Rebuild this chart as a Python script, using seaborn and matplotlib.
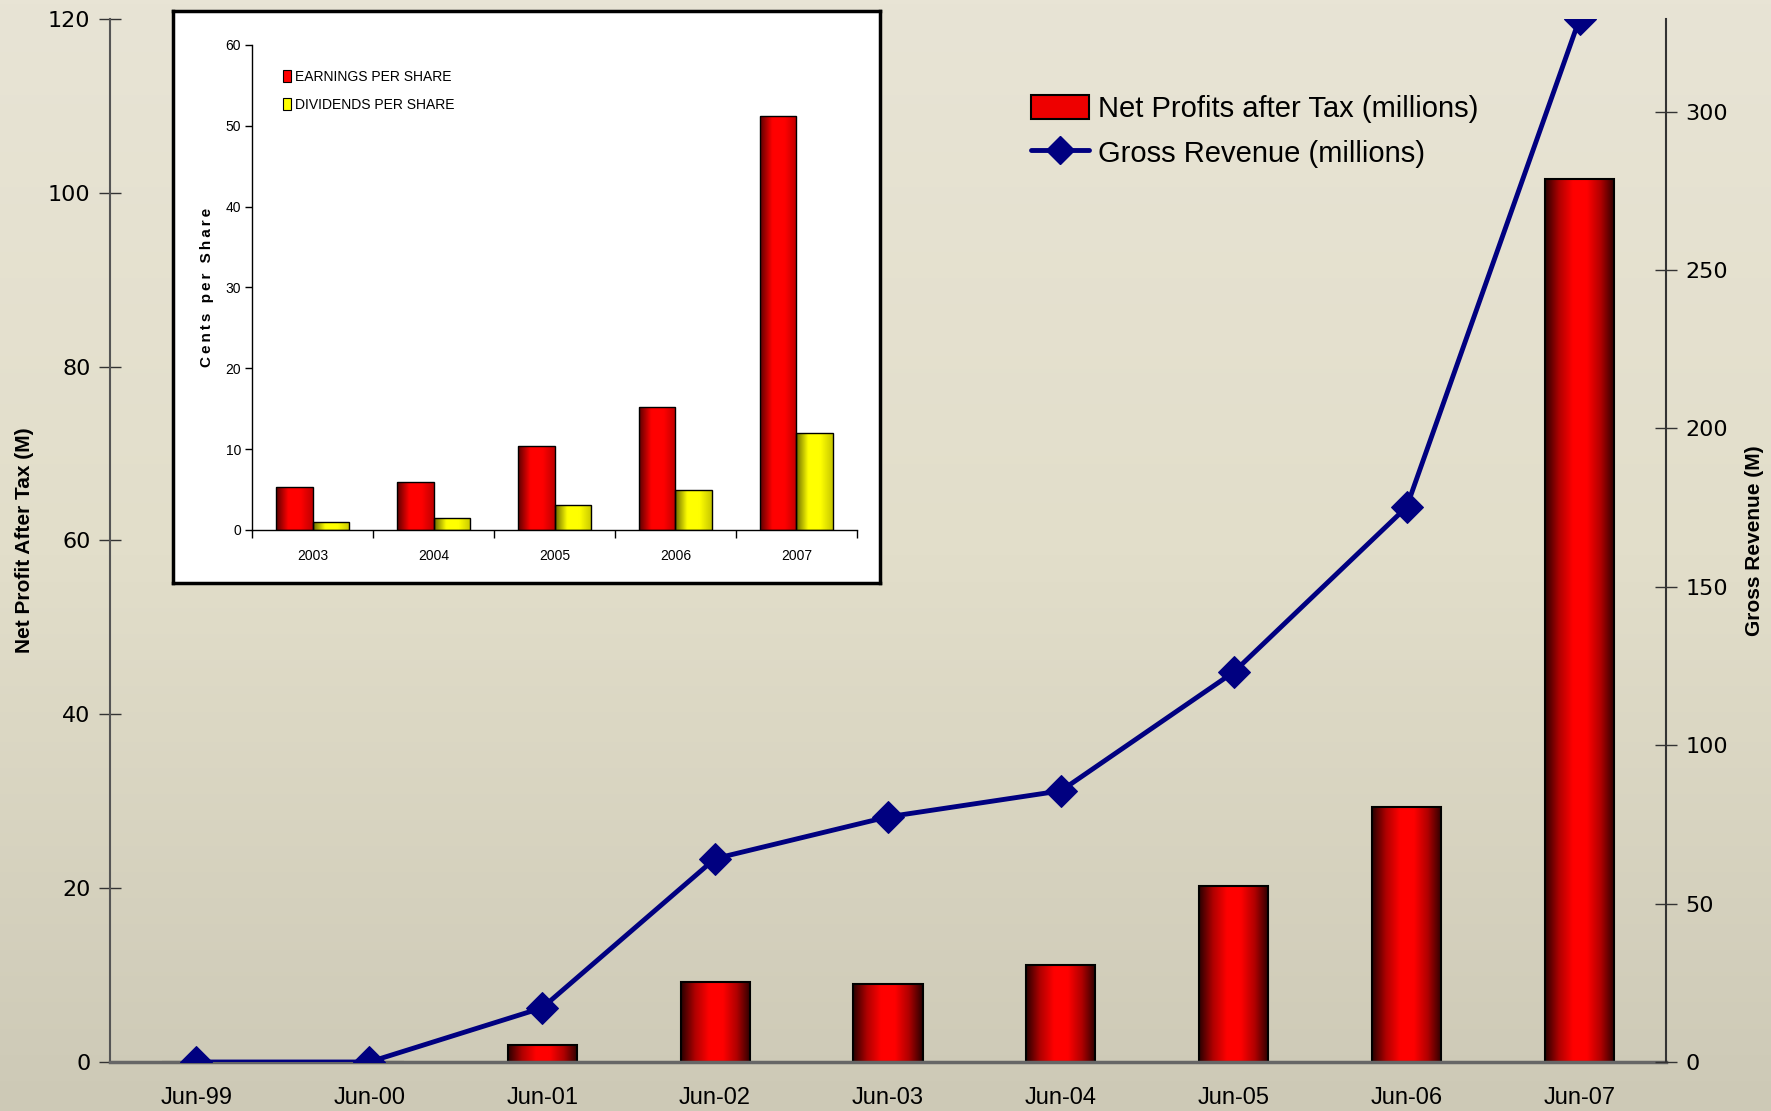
import numpy as np
import pandas as pd
import matplotlib
matplotlib.use("Agg")
import matplotlib.pyplot as plt
import seaborn as sns
from matplotlib.colors import LinearSegmentedColormap
from matplotlib.patches import Rectangle
from matplotlib.lines import Line2D

# data
periods = ["Jun-99", "Jun-00", "Jun-01", "Jun-02", "Jun-03", "Jun-04", "Jun-05", "Jun-06", "Jun-07"]
net_profit = [0, 0, 2.0, 9.2, 9.0, 11.2, 20.2, 29.3, 101.6]
gross_revenue = [0, 0, 17.1, 64.2, 77.4, 85.6, 123.1, 175.2, 329.3]

years = ["2003", "2004", "2005", "2006", "2007"]
eps = [5.3, 5.95, 10.35, 15.2, 51.2]
dps = [0.98, 1.45, 3.07, 4.98, 11.95]

sns.set_theme(style="white")
plt.rcParams["font.family"] = ["Liberation Sans", "DejaVu Sans"]
plt.rcParams["text.color"] = "black"
plt.rcParams["axes.labelcolor"] = "black"
plt.rcParams["xtick.color"] = "black"
plt.rcParams["ytick.color"] = "black"

fig = plt.figure(figsize=(17.71, 11.11), dpi=100)

# background gradient
bg = fig.add_axes([0, 0, 1, 1], zorder=-10)
grad = np.linspace(0, 1, 256).reshape(-1, 1)
bg_cmap = LinearSegmentedColormap.from_list("bg", ["#e8e4d5", "#e2deca", "#cdc9b6"])
bg.imshow(grad, aspect="auto", cmap=bg_cmap, extent=[0, 1, 0, 1], origin="upper")
bg.set_axis_off()


def shade_bars(ax, cmap_for):
    g = np.linspace(0, 1, 200).reshape(1, -1)
    for p in list(ax.patches):
        w, h = p.get_width(), p.get_height()
        if h <= 0 or w <= 0:
            continue
        x0, y0 = p.get_x(), p.get_y()
        im = ax.imshow(g, cmap=cmap_for(p), aspect="auto", extent=[x0, x0 + w, y0, y0 + h],
                       zorder=p.get_zorder() + 0.1, interpolation="bicubic")
        im.set_clip_path(p)
        p.set_facecolor("none")
        p.set_zorder(p.get_zorder() + 0.2)


# main chart
ax = fig.add_axes([0.0621, 0.0441, 0.8786, 0.9389])
ax.set_facecolor("none")
df = pd.DataFrame({"period": periods, "profit": net_profit, "revenue": gross_revenue})
sns.barplot(data=df, x="period", y="profit", color="red", width=0.4,
            edgecolor="black", linewidth=1.5, ax=ax)
cmap_main = LinearSegmentedColormap.from_list(
    "b", ["#2a0000", "#b00000", "#ff0000", "#ff0000", "#b00000", "#2a0000"])
shade_bars(ax, lambda p: cmap_main)
ax.set_xlim(-0.5, 8.5)
ax.set_ylim(0, 120)
ax.set_yticks(range(0, 121, 20))
ax.set_xlabel("")
ax.set_ylabel("Net Profit After Tax (M)", fontsize=15, fontweight="bold", labelpad=10)
ax.set_xticks(np.arange(-0.5, 9, 1), minor=True)
ax.tick_params(axis="x", which="major", length=0, labelsize=17, pad=18)
ax.tick_params(axis="x", which="minor", direction="inout", length=16, width=1, color="#333333")
ax.tick_params(axis="y", which="major", direction="inout", length=16, width=1, color="#333333",
               labelsize=17, pad=6)
for lab in ax.get_yticklabels():
    lab.set_family("DejaVu Sans")
    lab.set_fontsize(16)
for s in ["top", "right"]:
    ax.spines[s].set_visible(False)
ax.spines["left"].set_color("#555555")
ax.spines["left"].set_linewidth(1.5)
ax.spines["bottom"].set_color("#666666")
ax.spines["bottom"].set_linewidth(2.5)

ax2 = ax.twinx()
sns.lineplot(data=df, x="period", y="revenue", color="#000080", linewidth=3.5,
             marker="D", markersize=16, markeredgecolor="#000080", ax=ax2, zorder=5)
ax2.set_ylim(0, 329.3)
ax2.set_yticks(range(0, 301, 50))
ax2.set_xlim(-0.5, 8.5)
ax2.set_ylabel("Gross Revenue (M)", fontsize=15, fontweight="bold", labelpad=12)
ax2.tick_params(axis="y", which="major", direction="inout", length=16, width=1, color="#333333",
                labelsize=16, pad=6, right=True)
for lab in ax2.get_yticklabels():
    lab.set_family("DejaVu Sans")
for s in ["top", "left", "bottom"]:
    ax2.spines[s].set_visible(False)
ax2.spines["right"].set_color("#333333")
ax2.spines["right"].set_linewidth(1.5)

handles = [Rectangle((0, 0), 1, 1, facecolor="#ee0000", edgecolor="black", linewidth=1.5),
           Line2D([], [], color="#000080", linewidth=3.5, marker="D", markersize=14)]
ax2.legend(handles, ["Net Profits after Tax (millions)", "Gross Revenue (millions)"],
           loc="upper left", bbox_to_anchor=(0.575, 0.952), frameon=False, fontsize=21,
           handlelength=2.0, handleheight=0.9, labelspacing=0.55, handletextpad=0.3)

# inset chart
box = fig.add_axes([0.0977, 0.4752, 0.3992, 0.5149], zorder=10)
box.set_facecolor("white")
box.set_xticks([])
box.set_yticks([])
for s in box.spines.values():
    s.set_color("black")
    s.set_linewidth(2.5)

iax = fig.add_axes([0.1423, 0.523, 0.3416, 0.4365], zorder=11)
iax.set_facecolor("none")
idf = pd.DataFrame({
    "year": years * 2,
    "value": eps + dps,
    "series": ["EARNINGS PER SHARE"] * 5 + ["DIVIDENDS PER SHARE"] * 5,
})
sns.barplot(data=idf, x="year", y="value", hue="series", width=0.6,
            palette=["#ff0000", "#ffff00"], edgecolor="black", linewidth=1, ax=iax)
leg = iax.get_legend()
if leg is not None:
    leg.remove()

cmap_r = LinearSegmentedColormap.from_list("r", ["#5a0000", "#ff0000", "#ff0000", "#c00000"])
cmap_y = LinearSegmentedColormap.from_list("y", ["#6a6a00", "#ffff00", "#ffff00", "#c8c800"])
shade_bars(iax, lambda p: cmap_y if p.get_facecolor()[1] > 0.5 else cmap_r)

iax.set_xlim(-0.5, 4.5)
iax.set_ylim(0, 60)
iax.set_yticks(range(0, 61, 10))
iax.set_xlabel("")
iax.set_ylabel("\u2009".join("Cents per Share"), fontsize=11, fontweight="bold", labelpad=8)
iax.set_xticks(np.arange(-0.5, 5, 1), minor=True)
iax.tick_params(axis="x", which="major", length=0, labelsize=10, pad=14)
iax.tick_params(axis="x", which="minor", direction="out", length=6, width=1, color="black", bottom=True)
iax.tick_params(axis="y", which="major", direction="out", length=5, width=1, color="black",
                labelsize=10, pad=3, left=True)
for s in ["top", "right"]:
    iax.spines[s].set_visible(False)
for s in ["left", "bottom"]:
    iax.spines[s].set_color("black")
    iax.spines[s].set_linewidth(1)

ihandles = [Rectangle((0, 0), 1, 1, facecolor="#ff0000", edgecolor="black", linewidth=0.8),
            Rectangle((0, 0), 1, 1, facecolor="#ffff00", edgecolor="black", linewidth=0.8)]
iax.legend(ihandles, ["EARNINGS PER SHARE", "DIVIDENDS PER SHARE"], loc="upper left",
           bbox_to_anchor=(0.03, 0.975), frameon=False, prop={"size": 10},
           handlelength=0.6, handleheight=1.0, handletextpad=0.3, labelspacing=1.0)

fig.savefig("out.png", dpi=100)
